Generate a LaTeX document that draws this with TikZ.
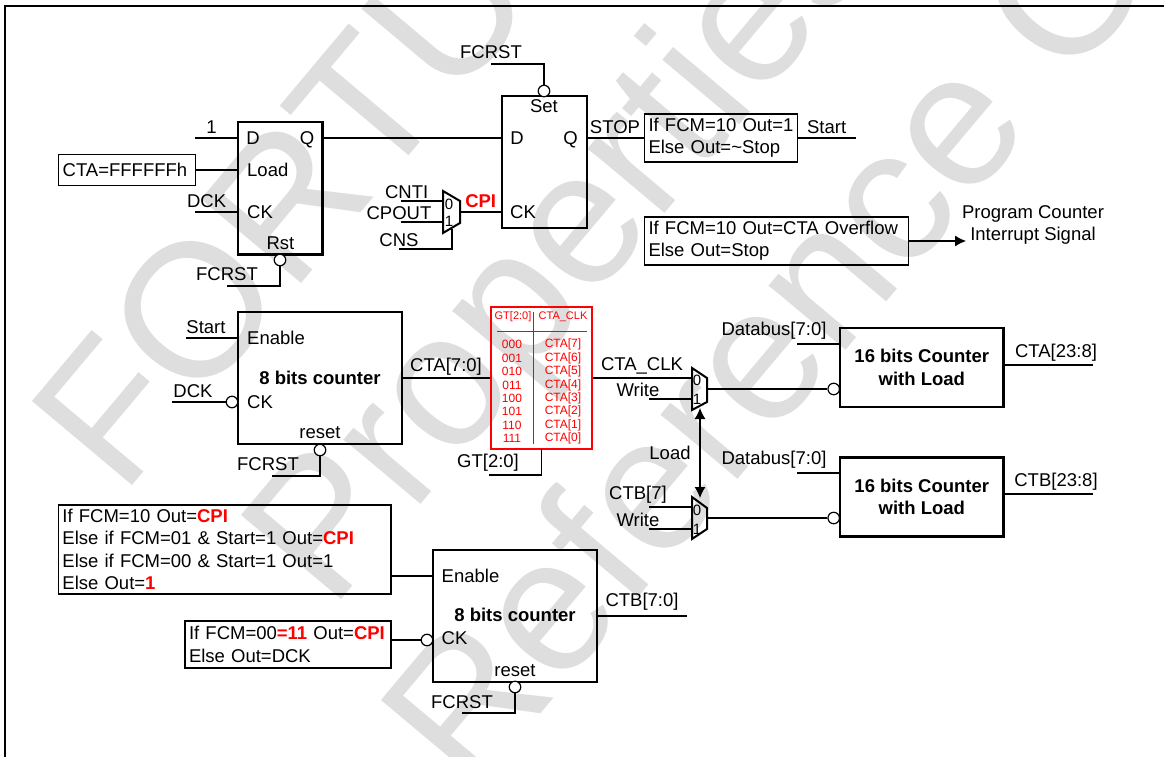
\documentclass[tikz,border=0pt]{standalone}
\usepackage{fontspec}
\setmainfont{Liberation Sans}
\usetikzlibrary{arrows.meta,positioning}

\definecolor{wmgray}{gray}{0.87}
\newcommand{\redb}[1]{\textcolor{red}{\textbf{#1}}}

\tikzset{
	wmark/.style={anchor=base west,rotate=50,text=wmgray,inner sep=0,font=\fontsize{190}{190}\selectfont},
	lbl/.style={inner sep=0,font=\fontsize{18.5}{22.3}\selectfont},
	port/.style={lbl,anchor=west},
	block/.style={draw,line width=2.2pt,fill=none,align=center,font=\fontsize{18.5}{22.3}\selectfont\bfseries},
	infobox/.style={draw,line width=1.2pt,inner sep=4pt,align=left,font=\fontsize{18.5}{22.3}\selectfont},
	bub/.style={circle,draw,line width=1.2pt,fill=white,inner sep=0,minimum size=11.5pt},
	wire/.style={line width=1.1pt},
	muxbody/.style={draw,line width=2pt},
	muxnum/.style={inner sep=0,font=\fontsize{15}{15}\selectfont},
	tbl/.style={inner sep=0,text=red,font=\fontsize{12}{12}\selectfont},
	tblh/.style={tbl,font=\fontsize{11}{11}\selectfont}
}

\begin{document}
\begin{tikzpicture}[x=1pt,y=-1pt,>={Latex[length=11pt,width=11pt]}]
\useasboundingbox (0,0) rectangle (1164,757);
\clip (0,0) rectangle (1164,757);

% watermark
\node[wmark] (wm1) at (122,498) {FORTUNE};
\node[wmark] (wm2) at (331,612) {Properties};
\node[wmark] (wm3) at (471,797) {Reference Only};

% frame
\coordinate (fa) at (5,757);
\coordinate (fb) at (5,6);
\coordinate (fc) at (1164,6);
\draw[line width=1.6pt] (fa) -- (fb) -- (fc);

% first flip flop
\node[block,minimum width=84.5pt,minimum height=132.5pt] (ffa) at (280.2,188.3) {};
\node[lbl] (ffad) at (253,138) {D};
\node[lbl] (ffaq) at (307,139.5) {Q};
\node[port] (ffal) at (247,170) {Load};
\node[port] (ffack) at (247,212) {CK};
\node[lbl] (ffarst) at (280.5,243) {Rst};
\node[bub] (ffab) at (280,260) {};
\node[infobox,text width=129pt,minimum height=31pt,inner ysep=0pt] (cta) at (127.2,170) {CTA=FFFFFFh};
\coordinate (one) at (195,138);
\coordinate (dcka) at (195,212);
\coordinate (rsta) at (227,286);
\node[lbl] (onel) at (211.6,127) {1};
\node[lbl] (dckal) at (206.6,201) {DCK};
\node[lbl] (rstal) at (227,274) {FCRST};

\draw[wire] (one) -- (one -| ffa.west);
\draw[wire] (cta.east) -- (cta.east -| ffa.west);
\draw[wire] (dcka) -- (dcka -| ffa.west);
\draw[wire] (rsta) -| (ffab.south);

% second flip flop
\node[block,minimum width=85pt,minimum height=132pt] (ffb) at (544.5,162) {};
\node[lbl] (ffbs) at (544,106) {Set};
\node[lbl] (ffbd) at (517,138) {D};
\node[lbl] (ffbq) at (570.6,139.5) {Q};
\node[port] (ffbck) at (510,212) {CK};
\node[bub] (ffbb) at (544,91) {};
\coordinate (setb) at (491,64);
\node[lbl] (setbl) at (491,52) {FCRST};
\draw[wire] (setb) -| (ffbb.north);
\draw[wire] (ffa.east |- one) -- (ffb.west |- one);

% clock mux
\coordinate (ma) at (443,191);
\coordinate (mb) at (460,201);
\coordinate (mc) at (460,223);
\coordinate (md) at (443,233);
\draw[muxbody] (ma) -- (mb) -- (mc) -- (md) -- cycle;
\node[muxnum] (ma0) at (449,204) {0};
\node[muxnum] (ma1) at (449,221) {1};
\coordinate (cnti) at (401,201);
\coordinate (cpout) at (401,222);
\coordinate (cns) at (399,249);
\coordinate (cnsm) at (452,229);
\coordinate (cpo) at (460,212);
\node[lbl] (cntil) at (406.7,192) {CNTI};
\node[lbl] (cpoutl) at (399,213) {CPOUT};
\node[lbl] (cnsl) at (399,240) {CNS};
\node[lbl] (cpil) at (480.7,200.7) {\redb{CPI}};
\draw[wire] (cnti) -- (cnti -| ma);
\draw[wire] (cpout) -- (cpout -| ma);
\draw[wire] (cns) -| (cnsm);
\draw[wire] (cpo) -- (cpo -| ffb.west);

% stop and interrupt boxes
\node[infobox,text width=145pt,minimum height=48pt] (stopb) at (721,138) {If FCM=10 Out=1\\Else Out=\textasciitilde Stop};
\node[infobox,text width=256pt,minimum height=48pt] (intb) at (776.5,241) {If FCM=10 Out=CTA Overflow\\Else Out=Stop};
\coordinate (starte) at (856,138);
\coordinate (inte) at (966,241);
\node[lbl] (stopl) at (615,127) {STOP};
\node[lbl] (startl) at (826.6,127) {Start};
\node[lbl,align=center] (intl) at (1033,225) {Program Counter\\Interrupt Signal};
\draw[wire] (ffb.east |- stopb.west) -- (stopb.west);
\draw[wire] (stopb.east) -- (starte);
\draw[wire,->] (intb.east) -- (inte);

% counter a
\node[block,minimum width=164pt,minimum height=132pt] (cnta) at (320,378) {};
\node[lbl,font=\fontsize{18.5}{22.3}\selectfont\bfseries] (cntat) at (320,378) {8 bits counter};
\node[port] (cntae) at (247,338) {Enable};
\node[port] (cntac) at (247,402) {CK};
\node[lbl] (cntar) at (320,433) {reset};
\node[bub] (cntab) at (232,402) {};
\node[bub] (cntarb) at (320,450) {};
\coordinate (starta) at (186,338);
\coordinate (dckb) at (172,402);
\coordinate (rstb) at (272,476);
\node[lbl] (startal) at (206,327) {Start};
\node[lbl] (dckbl) at (193,391) {DCK};
\node[lbl] (rstbl) at (268,464) {FCRST};
\draw[wire] (starta) -- (starta -| cnta.west);
\draw[wire] (dckb) -- (cntab.west);
\draw[wire] (rstb) -| (cntarb.south);

% gating table
\node[draw=red,line width=2pt,minimum width=101pt,minimum height=142pt,inner sep=0] (gt) at (541.5,378) {};
\coordinate (gtva) at (533,312);
\coordinate (gtvb) at (533,444);
\coordinate (gtha) at (497,331);
\coordinate (gthb) at (587,331);
\draw[red,line width=1pt] (gtva) -- (gtvb);
\draw[red,line width=1pt] (gtha) -- (gthb);
\node[tblh] (gth1) at (513,317) {GT[2:0]};
\node[tblh] (gth2) at (563,317) {CTA\_CLK};
\foreach \num/\clk/\ypos in {000/7/344,001/6/358,010/5/371,011/4/385,100/3/398,101/2/411,110/1/425,111/0/438}{
	\node[tbl] (gl\num) at (512,\ypos) {\num};
	\node[tbl] (gr\num) at (563,\ypos) {CTA[\clk]};
}
\coordinate (gtin) at (489,475);
\coordinate (gtout) at (541.7,449);
\node[lbl] (gtl) at (488,463) {GT[2:0]};
\node[lbl] (ctalo) at (446,367) {CTA[7:0]};
\draw[wire] (gtin) -| (gtout);
\draw[wire] (cnta.east) -- (gt.west);

% load muxes
\coordinate (na) at (692,368);
\coordinate (nb) at (707,378);
\coordinate (nc) at (707,402);
\coordinate (nd) at (692,410);
\draw[muxbody] (na) -- (nb) -- (nc) -- (nd) -- cycle;
\node[muxnum] (na0) at (697,380) {0};
\node[muxnum] (na1) at (697,399) {1};
\coordinate (pa) at (692,497);
\coordinate (pb) at (707,508);
\coordinate (pc) at (707,529);
\coordinate (pd) at (692,539);
\draw[muxbody] (pa) -- (pb) -- (pc) -- (pd) -- cycle;
\node[muxnum] (pa0) at (697,510) {0};
\node[muxnum] (pa1) at (697,529) {1};
\coordinate (wra) at (649,399);
\coordinate (ctb7) at (649,507);
\coordinate (wrb) at (649,529);
\coordinate (lda) at (700,408);
\coordinate (ldb) at (700,498);
\node[lbl] (ctaclk) at (642,366) {CTA\_CLK};
\node[lbl] (wral) at (638,390) {Write};
\node[lbl] (ctb7l) at (638,495) {CTB[7]};
\node[lbl] (wrbl) at (638,520) {Write};
\node[lbl] (ldl) at (670,453) {Load};
\draw[wire] (gt.east) -- (gt.east -| na);
\draw[wire] (wra) -- (wra -| na);
\draw[wire] (ctb7) -- (ctb7 -| pa);
\draw[wire] (wrb) -- (wrb -| pa);
\draw[wire,<->] (lda) -- (ldb);

% 16 bits counters
\node[block,minimum width=163.5pt,minimum height=79pt] (cha) at (921.8,367.5) {16 bits Counter\\with Load};
\node[block,minimum width=163.5pt,minimum height=79pt] (chb) at (921.8,497) {16 bits Counter\\with Load};
\node[bub] (chab) at (833.7,389) {};
\node[bub] (chbb) at (833.7,518) {};
\coordinate (mxa) at (707,389);
\coordinate (mxb) at (707,518);
\coordinate (dba) at (797,344);
\coordinate (dbb) at (797,473);
\coordinate (oua) at (1093,365);
\coordinate (oub) at (1093,494);
\node[lbl] (dbal) at (774,331) {Databus[7:0]};
\node[lbl] (dbbl) at (774,460) {Databus[7:0]};
\node[lbl] (oual) at (1056,353) {CTA[23:8]};
\node[lbl] (oubl) at (1056,482) {CTB[23:8]};
\draw[wire] (mxa) -- (chab.west);
\draw[wire] (mxb) -- (chbb.west);
\draw[wire] (dba) -- (dba -| cha.west);
\draw[wire] (dbb) -- (dbb -| chb.west);
\draw[wire] (oua -| cha.east) -- (oua);
\draw[wire] (oub -| chb.east) -- (oub);

% counter b
\node[block,minimum width=164pt,minimum height=132pt] (cntb) at (515,616) {};
\node[lbl,font=\fontsize{18.5}{22.3}\selectfont\bfseries] (cntbt) at (515,615) {8 bits counter};
\node[port] (cntbe) at (441.5,576) {Enable};
\node[port] (cntbc) at (441.5,638) {CK};
\node[lbl] (cntbr) at (515,671) {reset};
\node[bub] (cntbb) at (427,640) {};
\node[bub] (cntbrb) at (515,687) {};
\node[infobox,text width=324.5pt,minimum height=89pt] (ena) at (224.7,549.5) {If FCM=10 Out=\redb{CPI}\\Else if FCM=01 \& Start=1 Out=\redb{CPI}\\Else if FCM=00 \& Start=1 Out=1\\Else Out=\redb{1}};
\node[infobox,text width=198pt,minimum height=47pt] (ckb) at (288,644.5) {If FCM=00\redb{=11} Out=\redb{CPI}\\Else Out=DCK};
\coordinate (rstc) at (462,713);
\coordinate (ctbo) at (687,616);
\node[lbl] (rstcl) at (462,702) {FCRST};
\node[lbl] (ctbol) at (642,602) {CTB[7:0]};
\draw[wire] (ena.east |- cntbe) -- (ena.east |- cntbe -| cntb.west);
\draw[wire] (ckb.east |- cntbb) -- (cntbb.west);
\draw[wire] (rstc) -| (cntbrb.south);
\draw[wire] (ctbo -| cntb.east) -- (ctbo);
\end{tikzpicture}
\end{document}
